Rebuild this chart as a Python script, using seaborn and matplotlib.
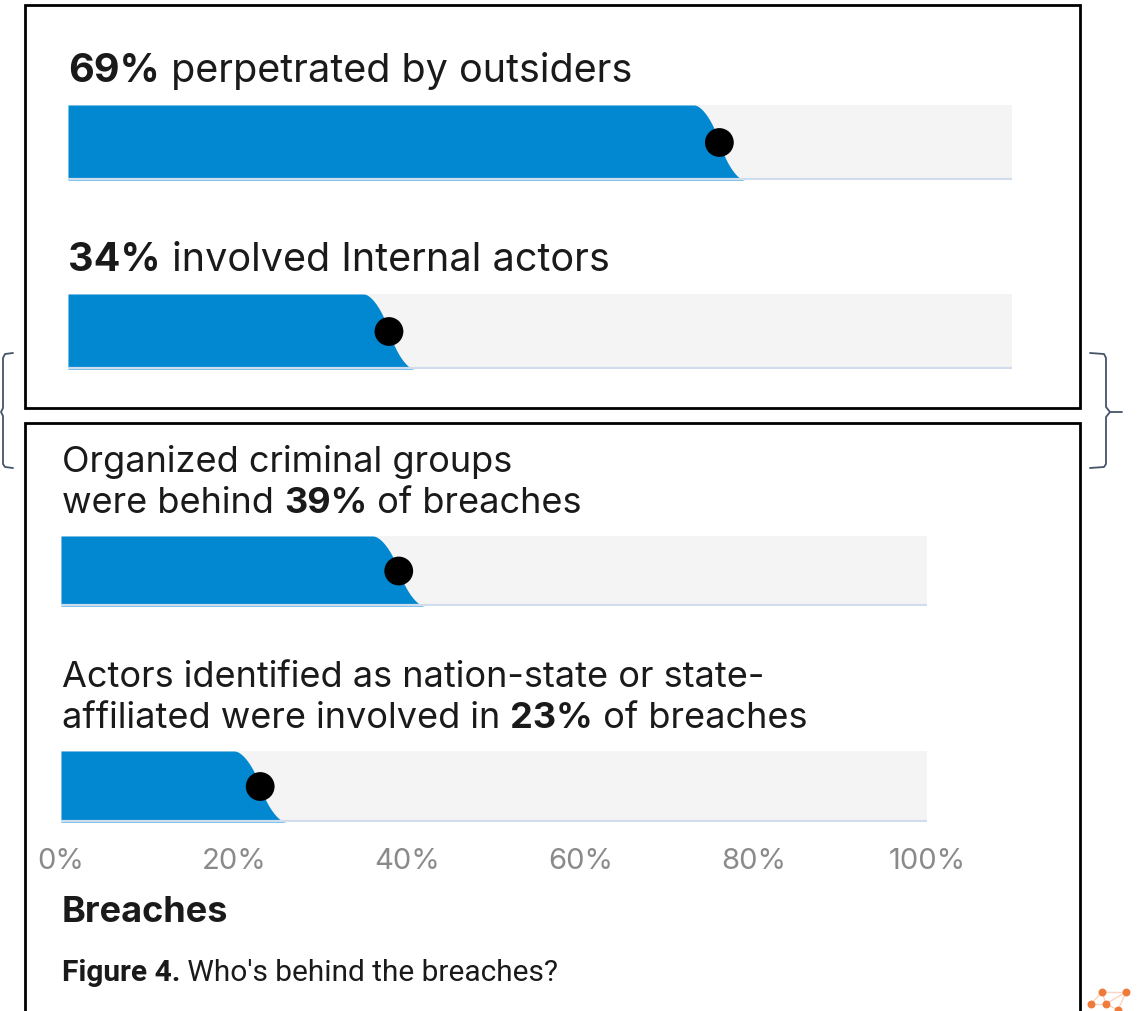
import numpy as np
import matplotlib
matplotlib.use("Agg")
import matplotlib.pyplot as plt
import seaborn as sns
from matplotlib.patches import Rectangle
from matplotlib.lines import Line2D

# data
values = [69, 34, 39, 23]
headlines = [
    [[("69%", True), (" perpetrated by outsiders", False)]],
    [[("34%", True), (" involved Internal actors", False)]],
    [[("Organized criminal groups", False)],
     [("were behind ", False), ("39%", True), (" of breaches", False)]],
    [[("Actors identified as nation-state or state-", False)],
     [("affiliated were involved in ", False), ("23%", True), (" of breaches", False)]],
]
tick_values = [0, 20, 40, 60, 80, 100]
tick_labels = ["0%", "20%", "40%", "60%", "80%", "100%"]

BLUE = "#0288D1"
GREY = "#F4F4F4"
EDGE = "#CFDDEE"
INK = "#1A1A1A"
FONT = ["Inter", "DejaVu Sans"]

sns.set_theme(style="white")
plt.rcParams["font.family"] = FONT

W, H = 1137, 1011
fig = plt.figure(figsize=(W / 100, H / 100), dpi=100)


def px_rect(x0, y0, x1, y1):
    return [x0 / W, 1 - y1 / H, (x1 - x0) / W, (y1 - y0) / H]


def put_line(x, y, segments, size, family=FONT):
    prev = None
    for txt, bold in segments:
        w = "bold" if bold else "normal"
        if prev is None:
            prev = fig.text(x / W, 1 - y / H, txt, fontsize=size, fontweight=w,
                            color=INK, va="baseline", ha="left", family=family)
        else:
            prev = plt.annotate(txt, xy=(1, 0), xycoords=prev, va="bottom",
                                ha="left", fontsize=size, fontweight=w,
                                color=INK, family=family, annotation_clip=False)


# frames
fig.add_artist(Rectangle((25 / W, 1 - 408 / H), 1055 / W, 403 / H,
                         transform=fig.transFigure, fill=False, lw=2, ec="black"))
fig.add_artist(Rectangle((25 / W, 1 - 1030 / H), 1055 / W, 607 / H,
                         transform=fig.transFigure, fill=False, lw=2, ec="black"))

# brackets
BR = "#44546A"
lb = [(13, 353), (5, 354), (3, 358), (3, 408), (1, 412), (3, 416), (3, 464), (5, 467), (13, 468)]
rb = [(1090, 353), (1104, 354), (1106, 358), (1106, 407), (1110, 412), (1106, 417),
      (1106, 464), (1104, 467), (1090, 468)]
for pts in (lb, rb, [(1110, 412), (1122, 412)]):
    xs = [p[0] / W for p in pts]
    ys = [1 - p[1] / H for p in pts]
    fig.add_artist(Line2D(xs, ys, transform=fig.transFigure, color=BR, lw=1.3))

# bar rows: (x0, y_top, x1, y_bottom), text x, first baseline, half-width of curve, font size
rows = [
    ((68, 105, 1012, 180), 68, 82, 2.7, 28.5),
    ((68, 294, 1012, 369), 68, 271, 2.7, 28.5),
    ((61, 536, 927, 606), 62, 472, 3.0, 26),
    ((61, 751, 927, 822), 62, 687, 3.0, 26),
]

s = np.linspace(-1, 1, 300)
shape = 0.45 * s + 0.55 * np.sign(s) * (1 - np.sqrt(1 - s ** 2))
yy = (1 - s) / 2

for i, (box, tx, base, half, fs) in enumerate(rows):
    ax = fig.add_axes(px_rect(*box))
    ax.set_xlim(0, 100)
    ax.set_ylim(0, 1)
    ax.fill_between([0, 100], 0, 1, color=GREY, lw=0)
    ax.fill_betweenx(yy, 0, values[i] + half * shape, color=BLUE, lw=0)
    ax.axhline(0.012, color=EDGE, lw=1.6)
    sns.scatterplot(x=[values[i]], y=[0.5], s=430, color="black",
                    edgecolor="none", ax=ax, zorder=5)
    for sp in ax.spines.values():
        sp.set_visible(False)
    ax.set_xlabel("")
    ax.set_ylabel("")
    ax.set_yticks([])
    if i == 3:
        ax.set_xticks(tick_values)
        ax.set_xticklabels(tick_labels, fontsize=21, color="#8A8A8A")
        ax.tick_params(axis="x", length=0, pad=19)
    else:
        ax.set_xticks([])
    for j, line in enumerate(headlines[i]):
        put_line(tx, base + 41 * j, line, fs)

put_line(62, 922, [("Breaches", True)], 26)
put_line(62, 981, [("Figure 4.", True), (" Who's behind the breaches?", False)], 21.5,
         family=["Roboto", "DejaVu Sans"])

# small corner logo
lg = fig.add_axes(px_rect(1085, 980, 1137, 1011))
lg.set_xlim(1085, 1137)
lg.set_ylim(1011, 980)
lg.axis("off")
lx = [1102, 1126, 1091, 1106, 1118]
ly = [992, 992, 1004, 1004, 1010]
for a, b in [(0, 1), (0, 2), (0, 3), (2, 3), (1, 3), (3, 4), (1, 4)]:
    lg.plot([lx[a], lx[b]], [ly[a], ly[b]], color="#F8D5C0", lw=1)
lg.scatter(lx, ly, s=22, color="#F07A3A", zorder=3)

fig.savefig("out.png", dpi=100)
